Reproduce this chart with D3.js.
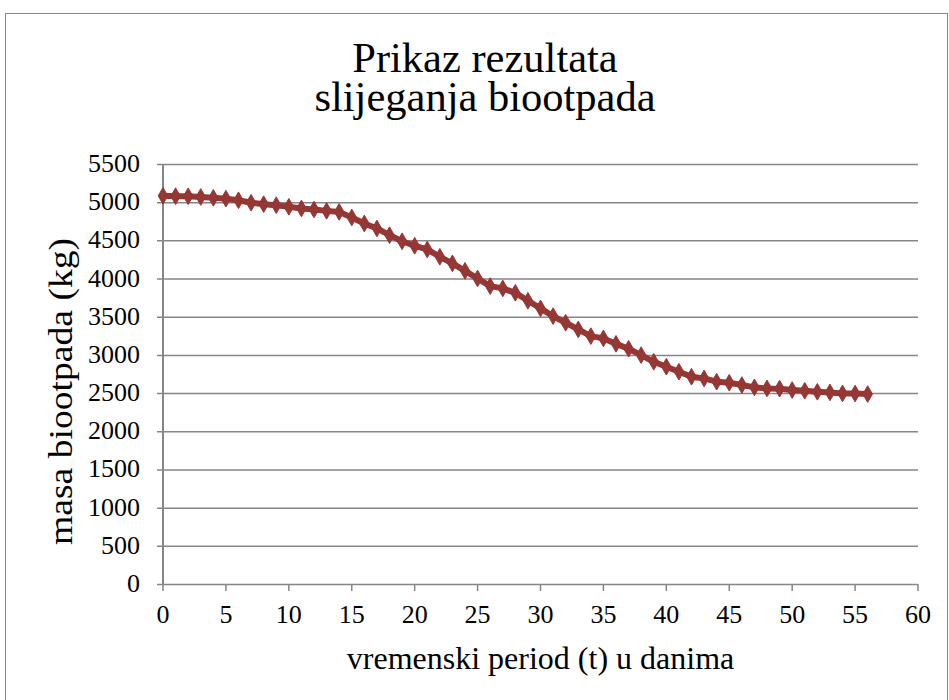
<!DOCTYPE html>
<html><head><meta charset="utf-8">
<script src="https://cdn.jsdelivr.net/npm/d3@7"></script>
<style>body{margin:0;background:#fff}svg{display:block}svg text{font-family:'Liberation Serif','Times New Roman',serif}</style>
</head><body>
<script>
const days = d3.range(0, 57);
const mass = [5083,5079,5078,5068,5057,5046,5025,4993,4974,4960,4939,4918,4904,4886,4873,
4800,4721,4656,4568,4488,4429,4381,4285,4198,4101,4001,3901,3871,3813,3709,
3609,3508,3421,3334,3246,3216,3145,3080,2997,2910,2845,2780,2714,2692,2649,
2635,2605,2575,2561,2558,2540,2530,2517,2509,2496,2494,2487];
const xTicks = d3.range(0, 61, 5);
const yTicks = d3.range(0, 5501, 500);
const titleLines = ["Prikaz rezultata", "slijeganja biootpada"];
const xTitle = "vremenski period (t) u danima";
const yTitle = "masa biootpada (kg)";

const W = 949, H = 700;
const svg = d3.select("body").append("svg").attr("width", W).attr("height", H);
svg.append("rect").attr("x", 5.5).attr("y", 13.5).attr("width", 942).attr("height", 690)
  .attr("fill", "#fff").attr("stroke", "#868686").attr("stroke-width", 1);

const L = 163, R = 918, T = 164, B = 584;
const x = d3.scaleLinear().domain([0, 60]).range([L, R]);
const y = d3.scaleLinear().domain([0, 5500]).range([B, T]);
const grey = "#868686";

svg.append("g").selectAll("line").data(yTicks).join("line")
  .attr("x1", L - 6).attr("x2", R).attr("y1", d => y(d) + 0.5).attr("y2", d => y(d) + 0.5)
  .attr("stroke", grey).attr("stroke-width", 1.5);
svg.append("line").attr("x1", L).attr("x2", L).attr("y1", T).attr("y2", B)
  .attr("stroke", grey).attr("stroke-width", 2);
svg.append("g").selectAll("line").data(xTicks).join("line")
  .attr("x1", d => x(d)).attr("x2", d => x(d)).attr("y1", B).attr("y2", B + 7)
  .attr("stroke", grey).attr("stroke-width", 1.5);

svg.append("g").selectAll("text").data(yTicks).join("text")
  .attr("x", L - 23).attr("y", d => y(d) + 8).attr("text-anchor", "end")
  .attr("font-size", 26).text(d => d);
svg.append("g").selectAll("text").data(xTicks).join("text")
  .attr("x", d => x(d)).attr("y", B + 39).attr("text-anchor", "middle")
  .attr("font-size", 26).text(d => d);

svg.append("text").attr("x", (L + R) / 2).attr("y", 669).attr("text-anchor", "middle")
  .attr("font-size", 32).text(xTitle);
svg.append("text").attr("transform", "translate(72,545) rotate(-90) scale(1.14,1)")
  .attr("text-anchor", "start").attr("font-size", 33).text(yTitle);

svg.append("g").selectAll("text").data(titleLines).join("text")
  .attr("x", 485).attr("y", (d, i) => 72 + i * 39).attr("text-anchor", "middle")
  .attr("font-size", 42.5).text(d => d);

const color = "#953735";
const pts = days.map((d, i) => [d, mass[i]]);
svg.append("path").datum(pts)
  .attr("d", d3.line().x(d => x(d[0])).y(d => y(d[1])))
  .attr("fill", "none").attr("stroke", color).attr("stroke-width", 6).attr("stroke-linejoin", "round");
svg.append("g").selectAll("path").data(pts).join("path")
  .attr("transform", d => `translate(${x(d[0])},${y(d[1])})`)
  .attr("d", d3.symbol().type(d3.symbolDiamond).size(80))
  .attr("fill", color).attr("stroke", color).attr("stroke-width", 1);
</script>
</body></html>
